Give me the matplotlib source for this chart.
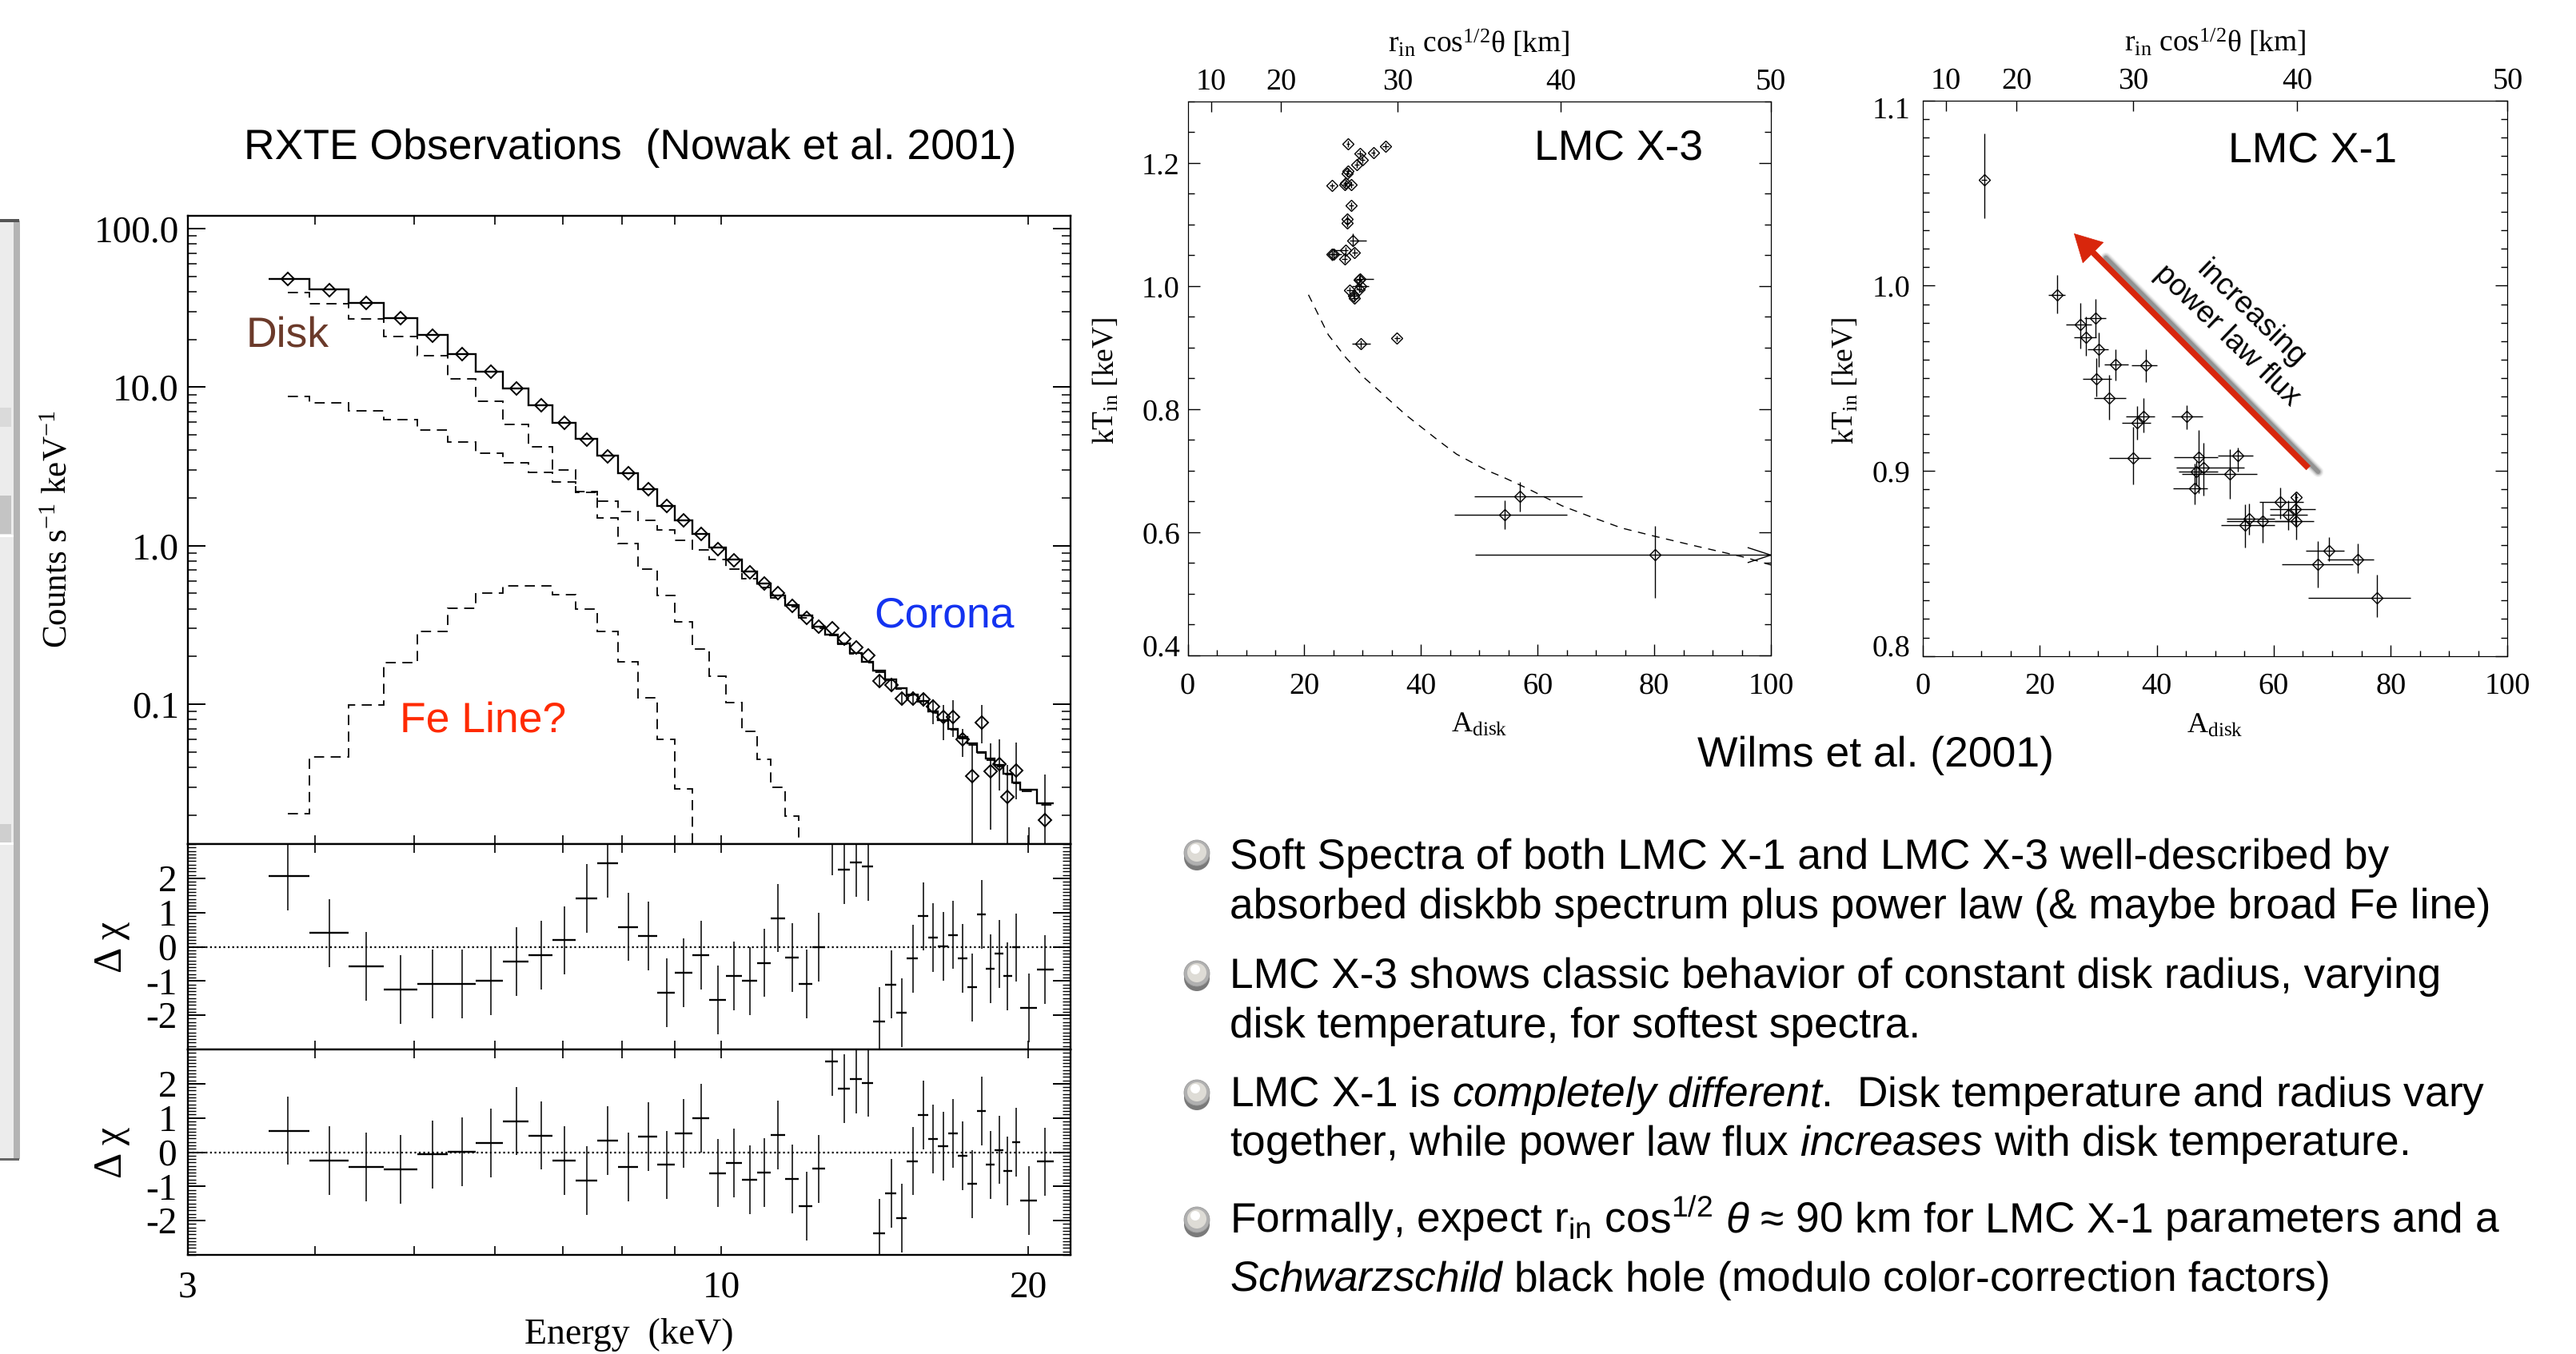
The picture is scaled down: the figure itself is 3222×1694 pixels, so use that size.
"""Slide figure: RXTE spectrum of LMC X-1 plus disk parameter plots of LMC X-3 / X-1."""
import numpy as np
import matplotlib
matplotlib.use('Agg')
import matplotlib.pyplot as plt
from matplotlib.patches import Circle, FancyArrowPatch, Rectangle
from matplotlib.ticker import FixedLocator, LogLocator, MultipleLocator, NullFormatter, NullLocator
from matplotlib.transforms import ScaledTranslation

plt.rcParams.update({
    'font.family': 'Liberation Serif',
    'axes.unicode_minus': False,
    'text.hinting': 'no_hinting',
    'mathtext.fontset': 'custom',
    'mathtext.rm': 'Liberation Serif',
    'mathtext.it': 'Liberation Sans:italic',
    'mathtext.bf': 'Liberation Sans:bold',
    'mathtext.default': 'regular',
})

W, H = 3223, 1694

# --- spectrum panel ---
energy = [3.76, 4.13, 4.49, 4.85, 5.21, 5.57, 5.94, 6.30, 6.66, 7.02, 7.38, 7.74, 8.11, 8.48, 8.84, 9.19,
          9.55, 9.92, 10.29, 10.66, 11.02, 11.37, 11.74, 12.12, 12.47, 12.86, 13.21, 13.57, 13.94, 14.30,
          14.69, 15.04, 15.41, 15.78, 16.13, 16.50, 16.87, 17.24, 17.63, 18.00, 18.38, 18.73, 19.09, 19.46,
          20.02, 20.77]
edges = [3.60, 3.95, 4.31, 4.67, 5.04, 5.39, 5.75, 6.11, 6.47, 6.83, 7.20, 7.56, 7.92, 8.29, 8.65, 9.01,
         9.37, 9.73, 10.10, 10.47, 10.84, 11.19, 11.56, 11.91, 12.29, 12.65, 13.02, 13.37, 13.74, 14.09,
         14.48, 14.85, 15.21, 15.58, 15.95, 16.31, 16.68, 17.05, 17.44, 17.80, 18.17, 18.55, 18.91, 19.27,
         19.64, 20.41, 21.17]
flux = [48.3, 41.1, 33.9, 27.3, 21.1, 16.2, 12.5, 9.78, 7.68, 5.99, 4.67, 3.64, 2.86, 2.27, 1.79, 1.45,
        1.19, 0.957, 0.810, 0.680, 0.575, 0.502, 0.419, 0.350, 0.309, 0.301, 0.258, 0.228, 0.203, 0.140,
        0.132, 0.109, 0.109, 0.107, 0.0961, 0.0833, 0.0828, 0.0599, 0.0351, 0.0768, 0.0376, 0.0418, 0.0260,
        0.0383, 0.0105, 0.0186]
# error bars only show outside the diamonds from bin 30 on
err_first_bin = 29
flux_hi = [0.152, 0.143, 0.119, 0.120, 0.117, 0.107, 0.0985, 0.1061, 0.0700, 0.0563, 0.0985, 0.0563, 0.0599,
           0.0413, 0.0570, 0.0167, 0.0358]
flux_lo = [0.129, 0.121, 0.100, 0.0997, 0.0966, 0.0744, 0.0591, 0.0618, 0.0467, 0.009, 0.0563, 0.0162, 0.0284,
           0.009, 0.0251, 0.009, 0.009]
model_total = [48.3, 41.4, 33.9, 27.3, 21.4, 16.2, 12.5, 9.78, 7.68, 5.99, 4.70, 3.69, 2.86, 2.27, 1.79, 1.45,
               1.19, 0.969, 0.815, 0.684, 0.575, 0.483, 0.424, 0.363, 0.307, 0.275, 0.243, 0.210, 0.186, 0.162,
               0.143, 0.126, 0.115, 0.105, 0.0897, 0.0792, 0.0700, 0.0618, 0.0563, 0.0497, 0.0453, 0.0413,
               0.0364, 0.0322, 0.0288, 0.0236]
model_disk = [39.6, 33.5, 27.1, 21.0, 15.8, 11.3, 8.12, 5.84, 4.20, 3.00, 2.16, 1.49, 1.03, 0.711, 0.486, 0.331,
              0.224, 0.150, 0.102, 0.0670, 0.0447, 0.0299, 0.0196, 0.0127]
model_pl = [8.75, 7.97, 7.08, 6.22, 5.35, 4.53, 3.85, 3.34, 2.91, 2.52, 2.20, 1.92, 1.65, 1.45, 1.26, 1.08,
            0.946, 0.815, 0.711, 0.616, 0.544, 0.471, 0.411, 0.352, 0.301, 0.270, 0.238, 0.207, 0.183, 0.160,
            0.141, 0.124, 0.113, 0.103, 0.088, 0.078, 0.069, 0.061, 0.055, 0.049, 0.0445, 0.0405, 0.0358,
            0.0316, 0.0283, 0.0232]
model_fe = [0.0204, 0.0464, 0.0991, 0.182, 0.289, 0.404, 0.502, 0.557, 0.557, 0.492, 0.398, 0.287, 0.186, 0.110,
            0.0599, 0.0293, 0.0127]
resid_a = [2.07, 0.40, -0.57, -1.25, -1.09, -1.09, -0.99, -0.43, -0.24, 0.19, 1.42, 2.44, 0.58, 0.32, -1.35, -0.76,
           -0.25, -1.56, -0.85, -1.00, -0.47, 0.84, -0.32, -1.08, -0.01, 3.10, 2.25, 2.47, 2.35, -2.18, -1.10, -1.92,
           -0.35, 0.89, 0.27, 0.01, 0.35, -0.34, -1.19, 0.95, -0.64, -0.21, -0.86, -0.02, -1.78, -0.66]
resid_b = [0.63, -0.24, -0.43, -0.50, -0.07, 0.01, 0.27, 0.91, 0.49, -0.24, -0.83, 0.34, -0.43, 0.46, -0.37, 0.55,
           1.00, -0.61, -0.31, -0.80, -0.59, 0.50, -0.78, -1.57, -0.49, 2.64, 1.85, 2.14, 2.03, -2.37, -1.21, -1.92,
           -0.26, 1.09, 0.39, 0.18, 0.55, -0.11, -0.93, 1.20, -0.37, 0.07, -0.55, 0.29, -1.41, -0.28]
resid_err = 1.0
energy_ticks = [3, 4, 5, 6, 7, 8, 9, 10, 20]
energy_labels = ['3', '', '', '', '', '', '', '10', '20']

# --- LMC X-3 ---
x3_adisk = [27.5, 33.9, 31.8, 29.5, 29.9, 29.0, 27.5, 27.3, 28.0, 24.7, 26.9, 27.1, 28.0, 27.4, 27.3, 28.3, 27.0,
            28.6, 26.9, 24.7, 25.0, 29.4, 29.5, 29.6, 29.4, 27.8, 28.6, 28.5, 29.7, 35.9, 57.0, 54.4, 80.1]
x3_ktin = [1.231, 1.227, 1.217, 1.216, 1.205, 1.197, 1.187, 1.183, 1.165, 1.163, 1.165, 1.167, 1.131, 1.109, 1.102,
           1.074, 1.058, 1.055, 1.044, 1.052, 1.052, 1.011, 1.012, 1.000, 0.995, 0.993, 0.981, 0.985, 0.906, 0.915,
           0.659, 0.628, 0.563]
x3_xerr_lo = [0.3, 0.5, 0.4, 0.5, 0.4, 0.4, 0.4, 0.4, 0.4, 0.4, 0.4, 0.4, 0.4, 0.4, 0.4, 0.5, 2.0, 0.5, 0.5, 0.5, 0.5,
              0.6, 0.6, 1.5, 0.6, 0.6, 0.6, 0.6, 1.6, 0.5, 7.9, 8.7, 30.8]
x3_xerr_hi = [0.3, 0.5, 0.4, 0.5, 0.4, 0.4, 0.4, 0.4, 0.4, 0.4, 0.4, 0.4, 0.4, 0.4, 0.4, 2.3, 0.5, 0.5, 0.5, 1.7, 0.5,
              0.6, 2.3, 1.5, 0.6, 0.6, 0.6, 0.6, 1.6, 0.5, 10.7, 10.6, 19.9]
x3_yerr_lo = [0.005, 0.005, 0.005, 0.005, 0.005, 0.005, 0.005, 0.005, 0.005, 0.005, 0.005, 0.005, 0.006, 0.006, 0.006,
              0.008, 0.006, 0.006, 0.006, 0.010, 0.006, 0.006, 0.006, 0.006, 0.006, 0.006, 0.007, 0.006, 0.006, 0.005,
              0.025, 0.023, 0.069]
x3_yerr_hi = [0.005, 0.005, 0.005, 0.005, 0.005, 0.005, 0.005, 0.005, 0.005, 0.005, 0.005, 0.005, 0.006, 0.006, 0.006,
              0.012, 0.006, 0.006, 0.006, 0.006, 0.006, 0.006, 0.006, 0.006, 0.006, 0.006, 0.007, 0.006, 0.006, 0.005,
              0.023, 0.024, 0.047]
curve_adisk = [20.7, 24.1, 27.1, 30.4, 33.5, 37.5, 43.0, 46.1, 51.2, 54.0, 58.3, 64.2, 68.9, 74.4, 79.9, 87.0, 95.7, 100.0]
curve_ktin = [0.986, 0.921, 0.884, 0.850, 0.824, 0.790, 0.749, 0.727, 0.701, 0.690, 0.671, 0.643, 0.626, 0.607, 0.594,
              0.578, 0.559, 0.547]

# --- LMC X-1 ---
x1_adisk = [10.5, 23.0, 29.5, 26.9, 27.9, 30.1, 33.0, 38.1, 29.7, 31.9, 37.7, 36.7, 45.1, 35.9, 47.1, 53.8, 48.0, 46.8,
            52.5, 46.5, 61.1, 63.8, 63.7, 62.5, 63.8, 58.1, 55.8, 55.1, 69.5, 67.5, 74.3, 77.6]
x1_ktin = [1.057, 0.995, 0.9823, 0.9788, 0.9719, 0.9655, 0.9573, 0.9570, 0.9496, 0.9395, 0.9293, 0.9258, 0.9293, 0.9068,
           0.9073, 0.9083, 0.9018, 0.8998, 0.8981, 0.8907, 0.883, 0.8857, 0.8793, 0.8763, 0.8728, 0.8728, 0.8741, 0.8708,
           0.8567, 0.8495, 0.852, 0.8315]
x1_x_lo = [10.0, 21.4, 27.6, 24.5, 25.8, 28.2, 31.0, 35.7, 27.3, 29.2, 34.7, 34.1, 42.5, 31.9, 42.9, 50.5, 43.3, 43.7,
           44.3, 42.8, 57.6, 63.5, 59.3, 59.3, 60.2, 52.0, 52.0, 51.0, 65.5, 61.4, 69.2, 65.9]
x1_x_hi = [11.0, 24.3, 31.3, 28.8, 29.7, 31.7, 35.1, 40.1, 32.3, 34.7, 39.6, 38.9, 47.8, 39.0, 50.4, 56.5, 54.9, 50.5,
           57.1, 48.7, 65.1, 64.1, 67.1, 65.7, 66.9, 64.1, 60.2, 60.2, 72.0, 73.5, 77.1, 83.4]
x1_y_hi = [1.082, 1.0056, 0.9927, 0.9907, 0.9833, 0.9746, 0.9655, 0.9655, 0.961, 0.9516, 0.9392, 0.935, 0.9355, 0.9239,
           0.9221, 0.9127, 0.9152, 0.9053, 0.9115, 0.904, 0.8909, 0.888, 0.888, 0.884, 0.883, 0.883, 0.8825, 0.8817,
           0.8644, 0.8619, 0.8607, 0.8441]
x1_y_lo = [1.0366, 0.985, 0.9722, 0.966, 0.9623, 0.956, 0.9486, 0.9479, 0.94, 0.9276, 0.9206, 0.9169, 0.9226, 0.8929,
           0.8879, 0.8998, 0.8867, 0.8917, 0.885, 0.8817, 0.8743, 0.883, 0.8706, 0.8681, 0.863, 0.8612, 0.8656, 0.8587,
           0.8513, 0.8372, 0.8446, 0.8211]

r_ticks = [10, 20, 30, 40, 50]      # top axis, km; A_disk = (r / 5)^2
adisk_ticks = [0, 20, 40, 60, 80, 100]
x3_kt_ticks = [0.4, 0.6, 0.8, 1.0, 1.2]
x1_kt_ticks = [0.8, 0.9, 1.0, 1.1]

bullets = [
    (1087, 'Soft Spectra of both LMC X-1 and LMC X-3 well-described by'),
    (1149, 'absorbed diskbb spectrum plus power law (& maybe broad Fe line)'),
    (1236, 'LMC X-3 shows classic behavior of constant disk radius, varying'),
    (1298, 'disk temperature, for softest spectra.'),
    (1385, r'LMC X-1 is $\mathit{completely\ different}$.  Disk temperature and radius vary'),
    (1446, r'together, while power law flux $\mathit{increases}$ with disk temperature.'),
    (1542, r'Formally, expect r$_{in}$ cos$^{1/2}$ $\mathit{\theta}$ ≈ 90 km for LMC X-1 parameters and a'),
    (1616, r'$\mathit{Schwarzschild}$ black hole (modulo color-correction factors)'),
]
bullet_y = [1067, 1218, 1367, 1526]


def rect(x0, y0, x1, y1):
    return [x0 / W, 1 - y1 / H, (x1 - x0) / W, (y1 - y0) / H]


fig = plt.figure(figsize=(W / 100, H / 100), dpi=100)

# --- left column ---
ax = fig.add_axes(rect(235, 270.5, 1339, 1056))
ax.set_xscale('log')
ax.set_yscale('log')
ax.set_xlim(3, 22)
ax.set_ylim(0.0131, 120)
dash_edges = [energy[0]] + edges[1:]
ax.stairs(model_total, edges, baseline=None, color='k', lw=1.7)
dash = (0, (7, 4.5))
ax.stairs(model_disk, dash_edges[:len(model_disk) + 1], baseline=None, color='k', lw=1.3, ls=dash)
ax.stairs(model_pl, dash_edges, baseline=None, color='k', lw=1.3, ls=dash)
ax.stairs(model_fe, dash_edges[:len(model_fe) + 1], baseline=None, color='k', lw=1.3, ls=dash)
ax.plot(energy, flux, ls='none', marker='D', ms=8.4, mfc='none', mec='k', mew=1.4)
ax.vlines(energy[err_first_bin:], flux_lo, flux_hi, color='k', lw=1.1)
ax.set_yticks([0.1, 1, 10, 100], ['0.1', '1.0', '10.0', '100.0'])
ax.yaxis.set_minor_locator(LogLocator(base=10, subs=range(2, 10), numticks=12))
ax.yaxis.set_minor_formatter(NullFormatter())
ax.tick_params(axis='y', which='major', direction='in', left=True, right=True, length=16, width=1.4,
               labelsize=34, pad=8)
ax.tick_params(axis='y', which='minor', direction='in', left=True, right=True, length=8, width=1.1)

res_axes = []
for resid, box in zip([resid_a, resid_b], [(235, 1056, 1339, 1313), (235, 1313, 1339, 1570)]):
    rax = fig.add_axes(rect(*box))
    rax.set_xscale('log')
    rax.set_xlim(3, 22)
    rax.set_ylim(-3, 3)
    rax.axhline(0, color='k', lw=1.6, ls=(0, (1, 1.5)))
    rax.hlines(resid, edges[:-1], edges[1:], color='k', lw=1.7)
    rax.vlines(energy, np.array(resid) - resid_err, np.array(resid) + resid_err, color='k', lw=1.1)
    rax.set_yticks([-2, -1, 0, 1, 2], ['-2', '-1', '0', '1', '2'])
    rax.yaxis.set_minor_locator(MultipleLocator(0.1))
    rax.tick_params(axis='y', which='major', direction='in', left=True, right=True, length=16, width=1.4,
                    labelsize=34, pad=10)
    rax.tick_params(axis='y', which='minor', direction='in', left=True, right=True, length=7, width=1.0)
    rax.set_ylabel('Δ χ', fontsize=36, labelpad=0)
    rax.yaxis.set_label_coords((162 - 235) / 1104, 0.5)
    for s in rax.spines.values():
        s.set_linewidth(1.9)
    res_axes.append(rax)

for a in [ax] + res_axes:
    a.xaxis.set_major_locator(FixedLocator(energy_ticks))
    a.xaxis.set_minor_locator(NullLocator())
    a.tick_params(axis='x', which='major', direction='in', top=True, bottom=True, length=8, width=1.2,
                  labelbottom=False)
    for s in a.spines.values():
        s.set_linewidth(1.7)
res_axes[-1].set_xticks(energy_ticks, energy_labels)
res_axes[-1].tick_params(axis='x', labelbottom=True, labelsize=34, pad=14)
res_axes[-1].set_xlabel('Energy  (keV)', fontsize=33, labelpad=12)
ax.set_ylabel('Counts s$^{-1}$ keV$^{-1}$', fontsize=31, labelpad=0)
ax.yaxis.set_label_coords((92 - 235) / 1104, (1056 - 662) / 785.5)


def disk_axes(box, ylim, kt_ticks, y_minor, ypad):
    a = fig.add_axes(rect(*box))
    a.set_xlim(0, 100)
    a.set_ylim(*ylim)
    a.set_xticks(adisk_ticks)
    a.set_yticks(kt_ticks)
    a.set_yticklabels(['%.1f' % t for t in kt_ticks], fontsize=27.5)
    a.xaxis.set_minor_locator(MultipleLocator(5))
    a.yaxis.set_minor_locator(MultipleLocator(y_minor))
    a.tick_params(axis='x', which='major', direction='in', length=10, width=1, labelsize=27.5, pad=15)
    a.tick_params(axis='x', which='minor', direction='in', length=5, width=1)
    a.tick_params(axis='y', which='major', direction='in', right=True, length=11, width=1, pad=ypad)
    a.tick_params(axis='y', which='minor', direction='in', right=True, length=6, width=1)
    # bottom and top labels sit inside the axis range in the original
    labs = a.get_yticklabels()
    if kt_ticks[0] == ylim[0]:
        labs[0].set_va('baseline')
    if kt_ticks[-1] == ylim[1]:
        labs[-1].set_va('top')
        labs[-1].set_transform(labs[-1].get_transform() + ScaledTranslation(0, 0.04, fig.dpi_scale_trans))
    a.set_xlabel(r'A$_{disk}$', fontsize=26, labelpad=10.5)
    a.set_ylabel(r'kT$_{in}$ [keV]', fontsize=27)
    top = a.twiny()
    top.set_xlim(0, 100)
    top.set_xticks([r ** 2 / 25 for r in r_ticks], [str(r) for r in r_ticks])
    top.tick_params(axis='x', direction='in', length=9, width=1, labelsize=27.5, pad=5)
    top.set_xlabel(r'r$_{in}$ cos$^{1/2}$θ [km]', fontsize=27, labelpad=14)
    return a


# --- LMC X-3 ---
a3 = disk_axes((1485.6, 127, 2215, 820), (0.4, 1.3), x3_kt_ticks, 0.05, 7)
a3.yaxis.set_label_coords((1401 - 1485.6) / 729.4, (820 - 476) / 693)
a3.plot(curve_adisk, curve_ktin, color='k', lw=1.0, ls=(0, (7, 6)))
a3.errorbar(x3_adisk, x3_ktin, xerr=[x3_xerr_lo, x3_xerr_hi], yerr=[x3_yerr_lo, x3_yerr_hi], fmt='none',
            ecolor='k', elinewidth=1.0)
a3.plot(x3_adisk, x3_ktin, ls='none', marker='D', ms=7.2, mfc='none', mec='k', mew=1.0)
a3.plot([96.1, 100, 96.1], [0.575, x3_ktin[-1], 0.551], color='k', lw=1.0, clip_on=False)

# --- LMC X-1 ---
a1 = disk_axes((2405, 125.6, 3136.5, 820.8), (0.8, 1.1), x1_kt_ticks, 0.01, 11)
a1.yaxis.set_label_coords((2326 - 2405) / 731.5, (820.8 - 476) / 695.2)
a1.errorbar(x1_adisk, x1_ktin,
            xerr=[np.array(x1_adisk) - np.array(x1_x_lo), np.array(x1_x_hi) - np.array(x1_adisk)],
            yerr=[np.array(x1_ktin) - np.array(x1_y_lo), np.array(x1_y_hi) - np.array(x1_ktin)],
            fmt='none', ecolor='k', elinewidth=1.0)
a1.plot(x1_adisk, x1_ktin, ls='none', marker='D', ms=7.0, mfc='none', mec='k', mew=1.0)
for lw, al in [(10, 0.05), (8, 0.09), (6, 0.14), (4, 0.22)]:
    a1.plot([31.3, 67.6], [1.015, 0.8995], color='k', lw=lw, alpha=al, solid_capstyle='round')
a1.add_patch(FancyArrowPatch((65.9, 0.9016), (25.9, 1.028), shrinkA=0, shrinkB=0, mutation_scale=10,
                             arrowstyle='simple,tail_width=0.5,head_width=2.6,head_length=2.4',
                             fc='#d8260c', ec='#d8260c', lw=0.5, zorder=4))

# --- overlay in pixel coordinates for slide text ---
ov = fig.add_axes([0, 0, 1, 1], zorder=10)
ov.set_xlim(0, W)
ov.set_ylim(H, 0)
ov.axis('off')
sans = 'Liberation Sans'


def label(x, y, s, color='k', rot=0, size=38.5):
    ov.text(x, y, s, family=sans, fontsize=size, color=color, ha='center', va='center', rotation=rot,
            rotation_mode='anchor')


label(788, 185, 'RXTE Observations  (Nowak et al. 2001)')
label(2346, 945, 'Wilms et al. (2001)')
label(2025, 186, 'LMC X-3')
label(2893, 189, 'LMC X-1')
label(360, 420, 'Disk', color='#6b3a2a')
label(1181, 771, 'Corona', color='#1433f0')
label(604, 902, 'Fe Line?', color='#ff2a00')
label(2815, 393, 'increasing', rot=-44, size=27.5)
label(2786, 420, 'power law flux', rot=-44, size=27)

for y, s in bullets:
    ov.text(1538, y, s, family=sans, fontsize=38.3, color='k', ha='left', va='baseline')
for y in bullet_y:
    ov.add_patch(Circle((1497, y + 6), 16, fc='#333333', ec='none', alpha=0.65))
    ov.add_patch(Circle((1497, y), 16, fc='#b0b0b0', ec='#9a9a9a', lw=0.6))
    ov.add_patch(Circle((1497, y - 1), 12, fc='#dedcd6', ec='none'))
    ov.add_patch(Circle((1495, y - 5), 6, fc='#ffffff', ec='none'))

# piece of a neighbouring image cut by the slide's left edge
ov.add_patch(Rectangle((0, 276), 17, 1174, fc='#ececec', ec='none'))
ov.add_patch(Rectangle((17, 276), 8, 1174, fc='#b4b4b4', ec='none'))
ov.add_patch(Rectangle((0, 274), 24, 4, fc='#555555', ec='none'))
ov.add_patch(Rectangle((0, 1449), 24, 3, fc='#666666', ec='none'))
ov.add_patch(Rectangle((0, 620), 14, 48, fc='#c4c4c4', ec='none'))
ov.add_patch(Rectangle((0, 510), 14, 24, fc='#dadada', ec='none'))
ov.add_patch(Rectangle((0, 1031), 14, 24, fc='#cfcfcf', ec='none'))
ov.add_patch(Rectangle((0, 669), 17, 3, fc='#ffffff', ec='none'))
ov.add_patch(Rectangle((0, 1054), 17, 3, fc='#ffffff', ec='none'))

fig.savefig('out.png', dpi=100)
